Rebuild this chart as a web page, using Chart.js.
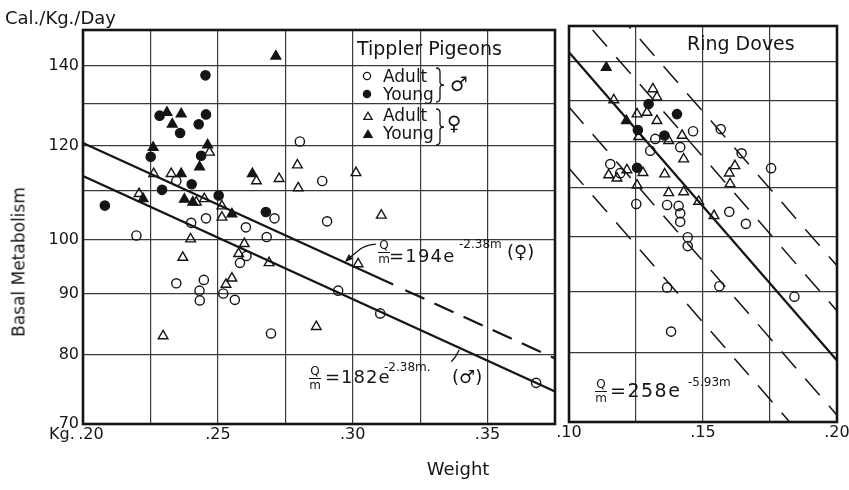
<!DOCTYPE html>
<html>
<head>
<meta charset="utf-8">
<script src="https://cdn.jsdelivr.net/npm/chart.js@4/dist/chart.umd.min.js"></script>
<style>
  html, body { margin: 0; padding: 0; background: #fff; overflow: hidden; width: 849px; height: 490px; }
  #wrap { position: relative; width: 849px; height: 490px; font-family: "DejaVu Sans", sans-serif; color: #151515; }
  canvas { position: absolute; }
  .t { position: absolute; white-space: nowrap; line-height: 1; }
  .frac { position: absolute; width: 12px; font-size: 12px; line-height: 13px; text-align: center; }
  .frac span { display: block; }
  .frac span:first-child { border-bottom: 1.2px solid #151515; }
</style>
</head>
<body>
<div id="wrap">
  <canvas id="pigeons" width="562" height="490" style="left:0;top:0"></canvas>
  <canvas id="doves" width="322" height="490" style="left:540px;top:0"></canvas>

  <div class="t" style="left:5px;top:9px;font-size:18px">Cal./Kg./Day</div>
  <div class="t" style="left:19px;top:262px;font-size:17px;transform:translate(-50%,-50%) rotate(-90deg)">Basal Metabolism</div>
  <div class="t" style="left:458px;top:469px;font-size:18px;transform:translate(-50%,-50%)">Weight</div>
  <div class="t" style="left:49px;top:426px;font-size:16px">Kg.</div>

  <div class="t" style="left:357px;top:39px;font-size:19px">Tippler Pigeons</div>
  <div class="t" style="left:383px;top:68px;font-size:17px">Adult</div>
  <div class="t" style="left:383px;top:86px;font-size:17px">Young</div>
  <div class="t" style="left:383px;top:107px;font-size:17px">Adult</div>
  <div class="t" style="left:383px;top:125px;font-size:17px">Young</div>
  <div class="t" style="left:459px;top:84px;font-size:20px;transform:translate(-50%,-50%)">♂</div>
  <div class="t" style="left:454px;top:123px;font-size:20px;transform:translate(-50%,-50%)">♀</div>

  <div class="frac" style="left:378px;top:239px"><span>Q</span><span>m</span></div>
  <div class="t" style="left:389px;top:247px;font-size:18px;letter-spacing:1.2px">=194e</div>
  <div class="t" style="left:459px;top:238px;font-size:12px">-2.38m</div>
  <div class="t" style="left:507px;top:243px;font-size:18px">(♀)</div>

  <div class="frac" style="left:309px;top:365px"><span>Q</span><span>m</span></div>
  <div class="t" style="left:325px;top:368px;font-size:18px;letter-spacing:1px">=182e</div>
  <div class="t" style="left:384px;top:361px;font-size:12px">-2.38m.</div>
  <div class="t" style="left:452px;top:368px;font-size:18px">(♂)</div>

  <div class="t" style="left:687px;top:34px;font-size:19px">Ring Doves</div>
  <div class="frac" style="left:595px;top:378px"><span>Q</span><span>m</span></div>
  <div class="t" style="left:610px;top:381px;font-size:19px;letter-spacing:1.5px">=258e</div>
  <div class="t" style="left:688px;top:376px;font-size:12px">-5.93m</div>
</div>

<script>
// ---------- Tippler pigeons: weight (kg) vs basal metabolism (Cal/kg/day) ----------
const pigeonAdultMaleW = [0.2804, 0.2887, 0.2346, 0.2905, 0.2198, 0.2401, 0.2456, 0.2604, 0.2681, 0.2710, 0.2606,
                          0.2582, 0.2346, 0.2448, 0.2432, 0.2433, 0.2520, 0.2563, 0.2697, 0.2946, 0.3102, 0.3680];
const pigeonAdultMaleQ = [120.9, 112.0, 112.0, 103.6, 100.8, 103.3, 104.2, 102.4, 100.5, 104.2, 96.9,
                          95.6, 91.9, 92.5, 90.6, 88.9, 90.1, 89.0, 83.4, 90.6, 86.7, 75.8];
const pigeonYoungMaleW = [0.2454, 0.2284, 0.2456, 0.2429, 0.2360, 0.2251, 0.2438, 0.2403, 0.2293, 0.2081, 0.2503, 0.2678];
const pigeonYoungMaleQ = [137.4, 127.1, 127.4, 125.0, 122.9, 117.4, 117.6, 111.3, 110.1, 106.8, 108.9, 105.5];
const pigeonAdultFemaleW = [0.2795, 0.2798, 0.2727, 0.2643, 0.2262, 0.2327, 0.2469, 0.2208, 0.2450, 0.2420, 0.3012, 0.3106,
                            0.3020, 0.2865, 0.2399, 0.2370, 0.2297, 0.2598, 0.2577, 0.2552, 0.2530, 0.2515, 0.2515, 0.2690];
const pigeonAdultFemaleQ = [115.5, 110.5, 112.5, 112.0, 113.6, 113.6, 118.4, 109.3, 108.2, 107.5, 113.8, 104.8,
                            95.4, 84.5, 100.1, 96.6, 83.0, 99.2, 97.3, 92.8, 91.7, 104.4, 106.7, 95.6];
const pigeonYoungFemaleW = [0.2715, 0.2311, 0.2364, 0.2331, 0.2260, 0.2462, 0.2432, 0.2364, 0.2628, 0.2223, 0.2376, 0.2407, 0.2552];
const pigeonYoungFemaleQ = [142.6, 127.9, 127.5, 125.0, 119.5, 120.1, 115.1, 113.6, 113.6, 108.2, 108.1, 107.5, 105.1];

// ---------- Ring doves ----------
const doveAdultMaleW = [0.1322, 0.1463, 0.1415, 0.1303, 0.1154, 0.1191, 0.1251, 0.1366, 0.1409, 0.1415, 0.1415,
                        0.1443, 0.1443, 0.1366, 0.1561, 0.1381, 0.1841, 0.1566, 0.1644, 0.1754, 0.1598, 0.1660];
const doveAdultMaleQ = [120.7, 122.5, 118.8, 118.0, 115.0, 113.0, 106.5, 106.3, 106.1, 104.6, 102.9,
                        99.9, 98.2, 90.7, 90.9, 83.3, 89.1, 123.0, 117.4, 114.1, 104.9, 102.5];
const doveYoungMaleW = [0.1297, 0.1403, 0.1257, 0.1356, 0.1254];
const doveYoungMaleQ = [129.1, 126.6, 122.8, 121.5, 114.2];
const doveAdultFemaleW = [0.1167, 0.1313, 0.1328, 0.1291, 0.1328, 0.1254, 0.1260, 0.1372, 0.1422, 0.1428, 0.1148, 0.1179,
                          0.1216, 0.1276, 0.1357, 0.1254, 0.1372, 0.1428, 0.1484, 0.1541, 0.1619, 0.1598, 0.1601];
const doveAdultFemaleQ = [130.1, 132.9, 130.8, 127.0, 125.0, 126.6, 121.2, 120.3, 121.5, 116.1, 112.6, 111.9,
                          113.7, 113.1, 112.8, 110.4, 108.8, 109.0, 107.0, 104.1, 114.6, 113.0, 110.7];
const doveYoungFemaleW = [0.1139, 0.1214];
const doveYoungFemaleQ = [138.5, 125.0];

// ---------- fitted curves Q/m = A e^(-k m) ----------
const pigeonFemaleA = 194, pigeonMaleA = 182, pigeonK = 2.38;
const pigeonRange = [0.20, 0.375];
const pigeonFemaleSolidEnd = 0.315, pigeonFemaleDashStart = 0.3195;
const doveA = 258, doveK = 5.93;
const doveRange = [0.10, 0.20];
const doveBandFactors = [0.8, 0.9, 1.1, 1.2];   // +-10 % and +-20 % bands

// ---------- axes ----------
const qTicks = [70, 80, 90, 100, 110, 120, 130, 140, 150];
const qTickLabels = ['70', '80', '90', '100', '', '120', '', '140', ''];
const pigeonWTicks = [0.20, 0.225, 0.25, 0.275, 0.30, 0.325, 0.35, 0.375];
// the first label is pushed right to leave room for the "Kg." unit
const pigeonWLabels = ['\u2002\u2002.20', '', '.25', '', '.30', '', '.35', ''];
const doveWTicks = [0.10, 0.125, 0.15, 0.175, 0.20];
const doveWLabels = ['.10', '', '.15', '', '.20'];

const INK = '#151515';
const GRID = '#3a3a3a';
const FONT = { family: 'DejaVu Sans', size: 16 };

function markers(label, ws, qs, style, filled, radius) {
  return {
    label,
    data: ws.map((w, i) => ({ x: w, y: qs[i] })),
    showLine: false,
    pointStyle: style,
    pointRadius: radius,
    pointBorderWidth: 1.4,
    pointBorderColor: INK,
    pointBackgroundColor: filled ? INK : 'rgba(0,0,0,0)'
  };
}

function curve(label, a, k, w0, w1, dash, width) {
  return {
    label,
    data: [{ x: w0, y: a * Math.exp(-k * w0) }, { x: w1, y: a * Math.exp(-k * w1) }],
    showLine: true,
    borderColor: INK,
    borderWidth: width,
    borderDash: dash,
    pointRadius: 0,
    clip: 0
  };
}

function qAxis(showLabels, width) {
  return {
    type: 'logarithmic', min: 70, max: 150,
    afterBuildTicks: s => { s.ticks = qTicks.map(v => ({ value: v })); },
    afterFit: s => { s.width = width; },
    grid: { color: GRID, lineWidth: 1.2, drawTicks: false },
    border: { display: false },
    ticks: { display: showLabels, autoSkip: false, padding: 4, color: INK, font: FONT,
             callback: (v, i) => qTickLabels[i] }
  };
}

function wAxis(range, ticks, labels) {
  return {
    type: 'linear', min: range[0], max: range[1], bounds: 'data',
    afterBuildTicks: s => { s.ticks = ticks.map(v => ({ value: v })); },
    afterFit: s => { s.height = 30; },
    grid: { color: GRID, lineWidth: 1.2, drawTicks: false },
    border: { display: false },
    ticks: { autoSkip: false, maxRotation: 0, padding: 1, color: INK, font: FONT,
             callback: (v, i) => labels[i] }
  };
}

// heavy frame around each plotting area
const framePlugin = {
  id: 'frame',
  afterDatasetsDraw(chart) {
    const { ctx, chartArea: a } = chart;
    ctx.save();
    ctx.strokeStyle = INK;
    ctx.lineWidth = 2.6;
    ctx.strokeRect(a.left, a.top, a.right - a.left, a.bottom - a.top);
    ctx.restore();
  }
};

// key symbols, braces and the pointers from the equations to their curves
const pigeonNotes = {
  id: 'pigeonNotes',
  afterDraw(chart) {
    const { ctx } = chart;
    const xs = chart.scales.x, ys = chart.scales.y;
    ctx.save();
    ctx.strokeStyle = INK;
    ctx.fillStyle = INK;
    ctx.lineWidth = 1.3;

    const key = [
      { style: 'circle', filled: false, r: 3.6, x: 367, y: 76 },
      { style: 'circle', filled: true, r: 3.6, x: 367, y: 94 },
      { style: 'triangle', filled: false, r: 4.8, x: 368, y: 117 },
      { style: 'triangle', filled: true, r: 4.8, x: 368, y: 135 }
    ];
    key.forEach(k => {
      ctx.fillStyle = k.filled ? INK : 'rgba(0,0,0,0)';
      Chart.helpers.drawPoint(ctx, { pointStyle: k.style, radius: k.r, rotation: 0, borderWidth: 1.3 }, k.x, k.y);
    });

    const brace = (x, y0, y1) => {
      const ym = (y0 + y1) / 2;
      ctx.beginPath();
      ctx.moveTo(x, y0);
      ctx.quadraticCurveTo(x + 4, y0, x + 4, y0 + 4);
      ctx.lineTo(x + 4, ym - 3);
      ctx.quadraticCurveTo(x + 4, ym, x + 8, ym);
      ctx.quadraticCurveTo(x + 4, ym, x + 4, ym + 3);
      ctx.lineTo(x + 4, y1 - 4);
      ctx.quadraticCurveTo(x + 4, y1, x, y1);
      ctx.stroke();
    };
    brace(436, 68, 102);
    brace(436, 109, 145);

    // pointer to the female curve
    const wf = 0.2967;
    const fx = xs.getPixelForValue(wf), fy = ys.getPixelForValue(pigeonFemaleA * Math.exp(-pigeonK * wf));
    ctx.beginPath();
    ctx.moveTo(fx + 32, fy - 18);
    ctx.quadraticCurveTo(fx + 20, fy - 17, fx + 14, fy - 11);
    ctx.lineTo(fx + 3, fy - 2);
    ctx.stroke();
    ctx.beginPath();
    ctx.moveTo(fx + 1, fy);
    ctx.lineTo(fx + 9, fy - 3);
    ctx.lineTo(fx + 5, fy - 8);
    ctx.closePath();
    ctx.fillStyle = INK;
    ctx.fill();

    // pointer to the male curve
    const wm = 0.3395;
    const mx = xs.getPixelForValue(wm), my = ys.getPixelForValue(pigeonMaleA * Math.exp(-pigeonK * wm));
    ctx.beginPath();
    ctx.moveTo(mx - 8, my + 14);
    ctx.quadraticCurveTo(mx - 3, my + 9, mx, my + 2);
    ctx.stroke();
    ctx.restore();
  }
};

const baseOptions = {
  responsive: false,
  animation: false,
  events: [],
  devicePixelRatio: 1,
  plugins: { legend: { display: false }, tooltip: { enabled: false } }
};

new Chart(document.getElementById('pigeons'), {
  type: 'scatter',
  data: {
    datasets: [
      markers('Young ♂', pigeonYoungMaleW, pigeonYoungMaleQ, 'circle', true, 4.6),
      markers('Young ♀', pigeonYoungFemaleW, pigeonYoungFemaleQ, 'triangle', true, 5.6),
      markers('Adult ♂', pigeonAdultMaleW, pigeonAdultMaleQ, 'circle', false, 4.6),
      markers('Adult ♀', pigeonAdultFemaleW, pigeonAdultFemaleQ, 'triangle', false, 5.6),
      curve('♀ fit', pigeonFemaleA, pigeonK, pigeonRange[0], pigeonFemaleSolidEnd, [], 2.2),
      curve('♀ fit, extended', pigeonFemaleA, pigeonK, pigeonFemaleDashStart, pigeonRange[1], [21, 11], 2.2),
      curve('♂ fit', pigeonMaleA, pigeonK, pigeonRange[0], pigeonRange[1], [], 2.2)
    ]
  },
  options: Object.assign({}, baseOptions, {
    layout: { padding: { left: 0, right: 5, top: 30, bottom: 36 } },
    scales: { x: wAxis(pigeonRange, pigeonWTicks, pigeonWLabels), y: qAxis(true, 83) }
  }),
  plugins: [framePlugin, pigeonNotes]
});

const doveBands = doveBandFactors.map(f =>
  curve('band ×' + f, doveA * f, doveK, doveRange[0], doveRange[1], [22, 14], 1.5));

new Chart(document.getElementById('doves'), {
  type: 'scatter',
  data: {
    datasets: [
      markers('Young ♂', doveYoungMaleW, doveYoungMaleQ, 'circle', true, 4.6),
      markers('Young ♀', doveYoungFemaleW, doveYoungFemaleQ, 'triangle', true, 5.6),
      markers('Adult ♂', doveAdultMaleW, doveAdultMaleQ, 'circle', false, 4.6),
      markers('Adult ♀', doveAdultFemaleW, doveAdultFemaleQ, 'triangle', false, 5.6),
      curve('fit', doveA, doveK, doveRange[0], doveRange[1], [], 2.2),
      ...doveBands
    ]
  },
  options: Object.assign({}, baseOptions, {
    layout: { padding: { left: 29, right: 25, top: 26, bottom: 38 } },
    scales: { x: wAxis(doveRange, doveWTicks, doveWLabels), y: qAxis(false, 0) }
  }),
  plugins: [framePlugin]
});
</script>
</body>
</html>
